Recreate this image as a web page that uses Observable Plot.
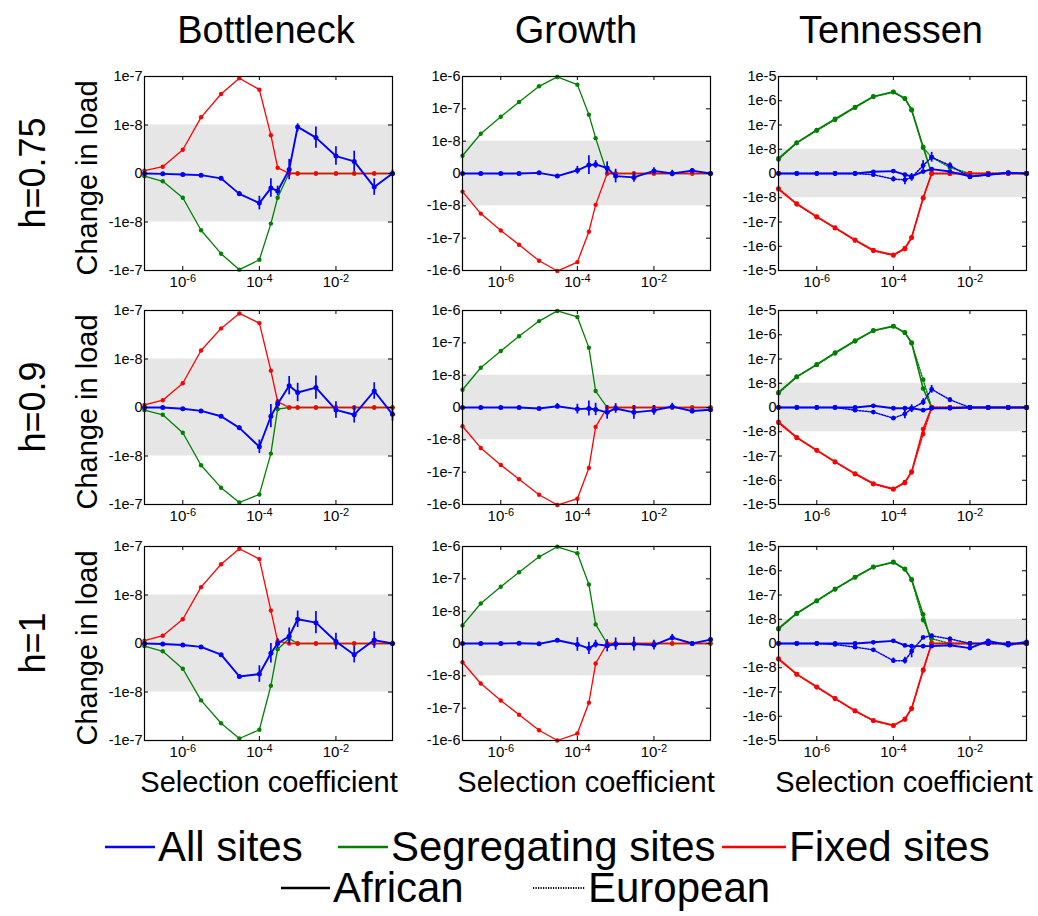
<!DOCTYPE html>
<html><head><meta charset="utf-8">
<script src="https://cdn.jsdelivr.net/npm/d3@7"></script>
<script src="https://cdn.jsdelivr.net/npm/@observablehq/plot@0.6"></script>
<style>
html,body{margin:0;padding:0;background:#fff;}
#root{position:relative;width:1038px;height:916px;overflow:hidden;font-family:"Liberation Sans",Arial,sans-serif;}
#root .panel{position:absolute;}
#overlay{position:absolute;left:0;top:0;pointer-events:none;}
</style></head><body><div id="root"></div>
<script>
// ---------- data ----------
const sValues = [1e-7, 3e-7, 1e-6, 3e-6, 1e-5, 3e-5, 1e-4, 2e-4, 3e-4, 6e-4, 1e-3, 3e-3, 1e-2, 3e-2, 1e-1, 3e-1];
const sDomain = [1e-7, 3e-1];
const xTickValues = [1e-6, 1e-4, 1e-2];
const bottleneckYTicks = [-1e-7, -1e-8, 0, 1e-8, 1e-7];
const growthYTicks = [-1e-6, -1e-7, -1e-8, 0, 1e-8, 1e-7, 1e-6];
const tennessenYTicks = [-1e-5, -1e-6, -1e-7, -1e-8, 0, 1e-8, 1e-7, 1e-6, 1e-5];
const bandLimits = [-1e-8, 1e-8];

const columnTitles = ["Bottleneck", "Growth", "Tennessen"];
const rowTitles = ["h=0.75", "h=0.9", "h=1"];
const yAxisLabel = "Change in load";
const xAxisLabel = "Selection coefficient";
const seriesNames = ["All sites", "Segregating sites", "Fixed sites"];
const seriesColors = ["#0000ff", "#008000", "#ff0000"];
const populationNames = ["African", "European"];

// Bottleneck, h=0.75
const bottleneck_h075_all    = [0, -7e-11, -2e-10, -3.4e-10, -1e-9, -4.2e-9, -6.1e-9, -3e-9, -3.6e-9, 8e-10, 9.6e-9, 7.4e-9, 3.6e-9, 2.5e-9, -2.8e-9, 0];
const bottleneck_h075_allErr = [0, 0, 0, 0, 2e-10, 5e-10, 1.4e-9, 1.9e-9, 1e-9, 2.1e-9, 1e-9, 2.2e-9, 1.9e-9, 2.1e-9, 1.7e-9, 7e-10];
const bottleneck_h075_seg    = [-5.5e-10, -1.6e-9, -5e-9, -1.48e-8, -4.5e-8, -9.6e-8, -6e-8, -1.08e-8, -5e-9, 1e-10, 0, 0, 0, 0, 0, 0];
const bottleneck_h075_fixed  = [6e-10, 1.4e-9, 4.9e-9, 1.44e-8, 4.35e-8, 9.2e-8, 5.35e-8, 7.9e-9, 1.2e-9, 0, 0, 0, 0, 0, 0, 0];
// Growth, h=0.75
const growth_h075_all    = [0, 0, 0, 0, 2e-10, -8e-10, 1e-9, 2.6e-9, 2.8e-9, 1.7e-9, -8e-10, -1.2e-9, 8e-10, 0, 9e-10, 0];
const growth_h075_allErr = [0, 0, 0, 0, 0, 0, 1.2e-9, 2.9e-9, 1.2e-9, 1.9e-9, 2.1e-9, 1.5e-9, 1e-9, 1e-9, 6e-10, 0];
const growth_h075_seg    = [5.5e-9, 1.7e-8, 5.7e-8, 1.63e-7, 4.97e-7, 9.7e-7, 5.6e-7, 6.6e-8, 1.24e-8, 0, 0, 0, 0, 0, 0, 0];
const growth_h075_fixed  = [-5.6e-9, -1.74e-8, -5.8e-8, -1.6e-7, -5e-7, -1.04e-6, -5.5e-7, -6.3e-8, -9.7e-9, 0, 0, 0, 0, 0, 0, 0];
// Tennessen, h=0.75
const tennessen_h075_allAfr    = [0, 0, 0, 0, 0, 7e-10, 1e-9, -5e-10, -1.2e-9, 8e-10, 1.8e-9, 8e-10, -1.2e-9, -5e-10, 3e-10, 0];
const tennessen_h075_allEur    = [0, 0, 0, 0, 0, -5e-10, -2.3e-9, -2.6e-9, -1.6e-9, 3.3e-9, 6.7e-9, 3.3e-9, -1.4e-9, -5e-10, 3e-10, 0];
const tennessen_h075_allEurErr = [0, 0, 0, 0, 0, 0, 1.1e-9, 2e-9, 1.6e-9, 2e-9, 2e-9, 1.1e-9, 0, 0, 0, 0];
const tennessen_h075_segAfr    = [6.2e-9, 1.88e-8, 6.2e-8, 1.77e-7, 5.5e-7, 1.5e-6, 2.34e-6, 1.25e-6, 4.27e-7, 1.25e-8, 0, 0, 0, 0, 0, 0];
const tennessen_h075_segEur    = [5.8e-9, 1.8e-8, 5.9e-8, 1.65e-7, 5.2e-7, 1.45e-6, 2.25e-6, 1.2e-6, 4.1e-7, 1.15e-8, 6.7e-9, 2.5e-9, 0, 0, 0, 0];
const tennessen_h075_fixedAfr  = [-6.2e-9, -1.77e-8, -6e-8, -1.71e-7, -5.5e-7, -1.46e-6, -2.27e-6, -1.21e-6, -4.27e-7, -1e-8, 0, 0, 0, 0, 0, 0];
const tennessen_h075_fixedEur  = [-6.5e-9, -1.85e-8, -6.3e-8, -1.8e-7, -5.8e-7, -1.55e-6, -2.4e-6, -1.3e-6, -4.5e-7, -1.05e-8, 0, 0, 0, 0, 0, 0];
// Bottleneck, h=0.9
const bottleneck_h09_all    = [0, 0, -2.7e-10, -7e-10, -1.8e-9, -4.2e-9, -8.1e-9, -1.8e-9, 7e-10, 4.5e-9, 3.1e-9, 4.1e-9, -5e-10, -1.5e-9, 3.4e-9, -1.4e-9];
const bottleneck_h09_allErr = [0, 0, 0, 0, 0, 4e-10, 1.4e-9, 2.4e-9, 1e-9, 1.9e-9, 1.9e-9, 2.4e-9, 1.7e-9, 1.7e-9, 1.7e-9, 1.4e-9];
const bottleneck_h09_seg    = [-5.5e-10, -1.5e-9, -5.2e-9, -1.55e-8, -4.5e-8, -9.1e-8, -6.2e-8, -9.5e-9, -3.4e-10, 0, 0, 0, 0, 0, 0, 0];
const bottleneck_h09_fixed  = [5.5e-10, 1.5e-9, 5e-9, 1.5e-8, 4.27e-8, 8.7e-8, 5.5e-8, 7.6e-9, 1.2e-9, 0, 0, 0, 0, 0, 0, 0];
// Growth, h=0.9
const growth_h09_all    = [0, 0, 0, 0, -3e-10, 4e-10, -5e-10, -3e-10, -6e-10, -1.5e-9, -3e-10, -1.5e-9, -9e-10, 3e-10, -1.1e-9, -7e-10];
const growth_h09_allErr = [0, 0, 0, 0, 0, 8e-10, 1.5e-9, 2.3e-9, 1.9e-9, 2.1e-9, 1.5e-9, 2.1e-9, 1.5e-9, 1e-9, 8e-10, 0];
const growth_h09_seg    = [5.5e-9, 1.7e-8, 5.6e-8, 1.6e-7, 4.7e-7, 9.7e-7, 6.3e-7, 7.1e-8, 5.1e-9, 0, 0, 0, 0, 0, 0, 0];
const growth_h09_fixed  = [-5.8e-9, -1.78e-8, -6e-8, -1.66e-7, -5e-7, -1.04e-6, -6.6e-7, -7.4e-8, -6e-9, 0, 0, 0, 0, 0, 0, 0];
// Tennessen, h=0.9
const tennessen_h09_allAfr    = [0, 0, 0, 0, 0, 7e-10, -3e-10, -3e-10, -3e-10, -1.1e-9, -3e-10, -3e-10, 0, 0, 0, 0];
const tennessen_h09_allEur    = [0, 0, 0, 0, -1.1e-9, -1.9e-9, -4.4e-9, -2.6e-9, -5e-10, 2.2e-9, 7.5e-9, 3.2e-9, 0, 0, 0, 0];
const tennessen_h09_allEurErr = [0, 0, 0, 0, 0, 0, 8e-10, 2e-9, 1.6e-9, 1.4e-9, 1.6e-9, 8e-10, 0, 0, 0, 0];
const tennessen_h09_segAfr    = [6.2e-9, 1.88e-8, 6e-8, 1.82e-7, 5.7e-7, 1.5e-6, 2.27e-6, 1.25e-6, 4.7e-7, 7.8e-9, 0, 0, 0, 0, 0, 0];
const tennessen_h09_segEur    = [5.9e-9, 1.8e-8, 5.7e-8, 1.7e-7, 5.4e-7, 1.45e-6, 2.2e-6, 1.2e-6, 4.5e-7, 1.4e-8, 0, 0, 0, 0, 0, 0];
const tennessen_h09_fixedAfr  = [-5.9e-9, -1.71e-8, -5.7e-8, -1.71e-7, -5.3e-7, -1.37e-6, -2.27e-6, -1.21e-6, -4.4e-7, -8.9e-9, 0, 0, 0, 0, 0, 0];
const tennessen_h09_fixedEur  = [-6.3e-9, -1.8e-8, -6e-8, -1.8e-7, -5.6e-7, -1.45e-6, -2.4e-6, -1.3e-6, -4.7e-7, -1.25e-8, 0, 0, 0, 0, 0, 0];
// Bottleneck, h=1
const bottleneck_h1_all    = [0, -1e-10, -3e-10, -7e-10, -2.3e-9, -6.8e-9, -6.3e-9, -2e-9, 0, 1.5e-9, 5e-9, 4.3e-9, 4e-10, -2.3e-9, 7e-10, 0];
const bottleneck_h1_allErr = [0, 0, 0, 0, 0, 3e-10, 1.7e-9, 2e-9, 1e-9, 1.7e-9, 1.7e-9, 2.3e-9, 1.7e-9, 1.7e-9, 1.7e-9, 5e-10];
const bottleneck_h1_seg    = [-5.5e-10, -1.6e-9, -5.2e-9, -1.49e-8, -4.4e-8, -9.1e-8, -6e-8, -8.7e-9, -1.2e-9, 1e-9, 0, 0, 0, 0, 0, 0];
const bottleneck_h1_fixed  = [6e-10, 1.6e-9, 5e-9, 1.45e-8, 4.3e-8, 9e-8, 5.5e-8, 6.8e-9, 5e-10, 0, 0, 0, 0, 0, 0, 0];
// Growth, h=1
const growth_h1_all    = [0, 0, 0, 1e-10, -1e-10, 1e-9, -3e-10, -1.5e-9, -2e-10, -7e-10, -2e-10, -2e-10, -5e-10, 1.8e-9, 0, 1.2e-9];
const growth_h1_allErr = [0, 0, 0, 0, 0, 0, 2.1e-9, 1.9e-9, 1.2e-9, 1.9e-9, 1.9e-9, 2.1e-9, 1.5e-9, 1e-9, 6e-10, 0];
const growth_h1_seg    = [5.6e-9, 1.73e-8, 5.7e-8, 1.6e-7, 4.8e-7, 9.8e-7, 6.2e-7, 6.7e-8, 5.9e-9, 0, 0, 0, 0, 0, 0, 0];
const growth_h1_fixed  = [-5.8e-9, -1.73e-8, -5.8e-8, -1.6e-7, -4.8e-7, -1e-6, -6.1e-7, -6.8e-8, -6.2e-9, 0, 0, 0, 0, 0, 0, 0];
// Tennessen, h=1
const tennessen_h1_allAfr    = [0, 0, 0, 0, 0, 5e-10, 1.1e-9, -8e-10, -1.1e-9, -1.1e-9, -1.1e-9, -7e-10, -1.9e-9, 1.1e-9, -7e-10, 7e-10];
const tennessen_h1_allEur    = [0, 0, 0, -4e-10, -1.5e-9, -2.6e-9, -7.1e-9, -7.1e-9, -3.2e-9, 2.5e-9, 3.2e-9, 1.9e-9, 0, 0, 0, 0];
const tennessen_h1_allEurErr = [0, 0, 0, 0, 0, 0, 1.1e-9, 1.4e-9, 2.7e-9, 0, 0, 8e-10, 0, 0, 0, 0];
const tennessen_h1_segAfr    = [6.2e-9, 1.77e-8, 5.9e-8, 1.78e-7, 5.5e-7, 1.43e-6, 2.29e-6, 1.18e-6, 4.4e-7, 1.6e-8, 0, 0, 0, 0, 0, 0];
const tennessen_h1_segEur    = [5.9e-9, 1.7e-8, 5.6e-8, 1.7e-7, 5.3e-7, 1.4e-6, 2.2e-6, 1.15e-6, 4.2e-7, 9.7e-9, 2e-9, 0, 0, 0, 0, 0];
const tennessen_h1_fixedAfr  = [-6.2e-9, -1.83e-8, -6.1e-8, -1.83e-7, -5.9e-7, -1.48e-6, -2.37e-6, -1.3e-6, -4.7e-7, -1.21e-8, 0, 0, 0, 0, 0, 0];
const tennessen_h1_fixedEur  = [-6.5e-9, -1.9e-8, -6.4e-8, -1.9e-7, -6.2e-7, -1.55e-6, -2.45e-6, -1.35e-6, -4.9e-7, -1.3e-8, 0, 0, 0, 0, 0, 0];

// ---------- scale helper: linear inside ±1e-8, one unit per decade outside ----------
const LIN = 1e-8;
function T(v) {
  const a = Math.abs(v);
  if (a <= LIN) return v / LIN;
  return Math.sign(v) * (Math.log10(a / LIN) + 1);
}

const [BLUE, GREEN, RED] = seriesColors;
function S(values, color, opts = {}) { return {values, color, ...opts}; }

function simplePanel(all, allErr, seg, fixed, yTicks) {
  return {yTicks, series: [
    S(seg, GREEN, {width: 1.3, r: 2.2}),
    S(fixed, RED, {width: 1.3, r: 2.2}),
    S(all, BLUE, {err: allErr, width: 1.9, r: 2.5})
  ]};
}
function tennPanel(allAfr, allEur, allEurErr, segAfr, segEur, fixedAfr, fixedEur) {
  return {yTicks: tennessenYTicks, series: [
    S(segEur, GREEN, {dashed: true, width: 1.4, r: 2.4}),
    S(segAfr, GREEN, {width: 1.6, r: 2.4}),
    S(fixedEur, RED, {dashed: true, width: 1.4, r: 2.4}),
    S(fixedAfr, RED, {width: 1.6, r: 2.4}),
    S(allEur, BLUE, {dashed: true, err: allEurErr, width: 1.5, r: 2.4}),
    S(allAfr, BLUE, {width: 1.9, r: 2.4})
  ]};
}

const grid = [
  [simplePanel(bottleneck_h075_all, bottleneck_h075_allErr, bottleneck_h075_seg, bottleneck_h075_fixed, bottleneckYTicks),
   simplePanel(growth_h075_all, growth_h075_allErr, growth_h075_seg, growth_h075_fixed, growthYTicks),
   tennPanel(tennessen_h075_allAfr, tennessen_h075_allEur, tennessen_h075_allEurErr, tennessen_h075_segAfr, tennessen_h075_segEur, tennessen_h075_fixedAfr, tennessen_h075_fixedEur)],
  [simplePanel(bottleneck_h09_all, bottleneck_h09_allErr, bottleneck_h09_seg, bottleneck_h09_fixed, bottleneckYTicks),
   simplePanel(growth_h09_all, growth_h09_allErr, growth_h09_seg, growth_h09_fixed, growthYTicks),
   tennPanel(tennessen_h09_allAfr, tennessen_h09_allEur, tennessen_h09_allEurErr, tennessen_h09_segAfr, tennessen_h09_segEur, tennessen_h09_fixedAfr, tennessen_h09_fixedEur)],
  [simplePanel(bottleneck_h1_all, bottleneck_h1_allErr, bottleneck_h1_seg, bottleneck_h1_fixed, bottleneckYTicks),
   simplePanel(growth_h1_all, growth_h1_allErr, growth_h1_seg, growth_h1_fixed, growthYTicks),
   tennPanel(tennessen_h1_allAfr, tennessen_h1_allEur, tennessen_h1_allEurErr, tennessen_h1_segAfr, tennessen_h1_segEur, tennessen_h1_fixedAfr, tennessen_h1_fixedEur)]
];

// ---------- layout ----------
const colLeft = [144, 462, 778];
const rowTop = [76, 310, 546];
const PW = 248, PH = 194;
const ML = 50, MR = 8, MT = 8, MB = 30;
const FONT = '"Liberation Sans", Arial, Helvetica, sans-serif';

function fmtY(v) {
  if (v === 0) return "0";
  return (v < 0 ? "-" : "") + "1e" + Math.round(Math.log10(Math.abs(v)));
}

function panelPlot(cfg) {
  const tickPos = cfg.yTicks.map(T);
  const N = tickPos[tickPos.length - 1];
  const marks = [
    Plot.rect([bandLimits], {x1: () => sDomain[0], x2: () => sDomain[1], y1: d => T(d[0]), y2: d => T(d[1]), fill: "#e6e6e6"})
  ];
  for (const se of cfg.series) {
    const rows = sValues.map((s, i) => ({s, v: se.values[i], e: se.err ? se.err[i] : 0}));
    const lineOpts = {x: "s", y: d => T(d.v), stroke: se.color, strokeWidth: se.width};
    if (se.dashed) lineOpts.strokeDasharray = "1.3,1.5";
    marks.push(Plot.line(rows, lineOpts));
    const eb = rows.filter(d => d.e > 0);
    if (eb.length) marks.push(Plot.ruleX(eb, {x: "s", y1: d => T(d.v - d.e), y2: d => T(d.v + d.e), stroke: se.color, strokeWidth: 1.7}));
    marks.push(Plot.dot(rows, {x: "s", y: d => T(d.v), r: se.r, fill: se.color, stroke: "none"}));
  }
  marks.push(
    Plot.tickY(tickPos, {y: d => d, insetRight: PW - 4, stroke: "black"}),
    Plot.tickY(tickPos, {y: d => d, insetLeft: PW - 4, stroke: "black"}),
    Plot.tickX(xTickValues, {x: d => d, insetTop: PH - 4, stroke: "black"}),
    Plot.tickX(xTickValues, {x: d => d, insetBottom: PH - 4, stroke: "black"}),
    Plot.axisY(tickPos, {anchor: "left", tickSize: 0, tickPadding: 2, fontSize: 14.5, tickFormat: (d, i) => fmtY(cfg.yTicks[i]), label: null}),
    Plot.axisX(xTickValues, {anchor: "bottom", tickSize: 0, tickPadding: 6, fontSize: 15, tickFormat: d => "10^" + Math.round(Math.log10(d)), label: null}),
    Plot.frame({stroke: "black", strokeWidth: 1.2})
  );
  const svg = Plot.plot({
    width: ML + PW + MR, height: MT + PH + MB,
    marginLeft: ML, marginRight: MR, marginTop: MT, marginBottom: MB,
    x: {type: "log", domain: sDomain},
    y: {type: "linear", domain: [-N, N]},
    style: {fontFamily: FONT, fontSize: "14px", background: "transparent", color: "black", overflow: "visible"},
    marks
  });
  // superscript exponents on x tick labels
  d3.select(svg).selectAll("text").each(function () {
    const t = this.textContent;
    if (t.includes("^")) {
      const [base, ex] = t.split("^");
      const sel = d3.select(this);
      sel.text(null);
      sel.append("tspan").text(base);
      sel.append("tspan").attr("dy", "-0.45em").attr("font-size", "11px").text(ex);
    }
  });
  return svg;
}

const root = document.getElementById("root");
grid.forEach((row, r) => row.forEach((cfg, c) => {
  const svg = panelPlot(cfg);
  const wrap = document.createElement("div");
  wrap.className = "panel";
  wrap.style.left = (colLeft[c] - ML) + "px";
  wrap.style.top = (rowTop[r] - MT) + "px";
  wrap.appendChild(svg);
  root.appendChild(wrap);
}));

// ---------- titles, labels, legend ----------
const ov = d3.select(root).append("svg").attr("id", "overlay").attr("width", 1038).attr("height", 916)
  .attr("font-family", FONT).attr("fill", "black");
const titleCenters = [266, 576, 891];
columnTitles.forEach((t, i) => ov.append("text").attr("x", titleCenters[i]).attr("y", 43)
  .attr("text-anchor", "middle").attr("font-size", 38).text(t));
rowTitles.forEach((t, r) => {
  const cy = rowTop[r] + PH / 2;
  ov.append("text").attr("transform", `translate(45,${cy}) rotate(-90)`).attr("text-anchor", "middle")
    .attr("font-size", 36).text(t);
  ov.append("text").attr("transform", `translate(97,${cy + 5}) rotate(-90)`).attr("text-anchor", "middle")
    .attr("font-size", 29).text(yAxisLabel);
});
const xLabelCenters = [269, 586, 904];
xLabelCenters.forEach(cx => ov.append("text").attr("x", cx).attr("y", 792).attr("text-anchor", "middle")
  .attr("font-size", 29).text(xAxisLabel));

const legendRow1 = [
  {x1: 105, x2: 155, tx: 158, color: seriesColors[0], name: seriesNames[0]},
  {x1: 338, x2: 388, tx: 391, color: seriesColors[1], name: seriesNames[1]},
  {x1: 722, x2: 786, tx: 789, color: seriesColors[2], name: seriesNames[2]}
];
legendRow1.forEach(d => {
  ov.append("line").attr("x1", d.x1).attr("x2", d.x2).attr("y1", 847).attr("y2", 847).attr("stroke", d.color).attr("stroke-width", 2.5);
  ov.append("text").attr("x", d.tx).attr("y", 861).attr("font-size", 42).text(d.name);
});
const legendRow2 = [
  {x1: 281, x2: 330, tx: 333, dash: null, name: populationNames[0]},
  {x1: 533, x2: 585, tx: 588, dash: "1.2,1.3", name: populationNames[1]}
];
legendRow2.forEach(d => {
  const l = ov.append("line").attr("x1", d.x1).attr("x2", d.x2).attr("y1", 888).attr("y2", 888).attr("stroke", "black")
    .attr("stroke-width", d.dash ? 2 : 2.5);
  if (d.dash) l.attr("stroke-dasharray", d.dash);
  ov.append("text").attr("x", d.tx).attr("y", 902).attr("font-size", 42).text(d.name);
});
</script></body></html>
